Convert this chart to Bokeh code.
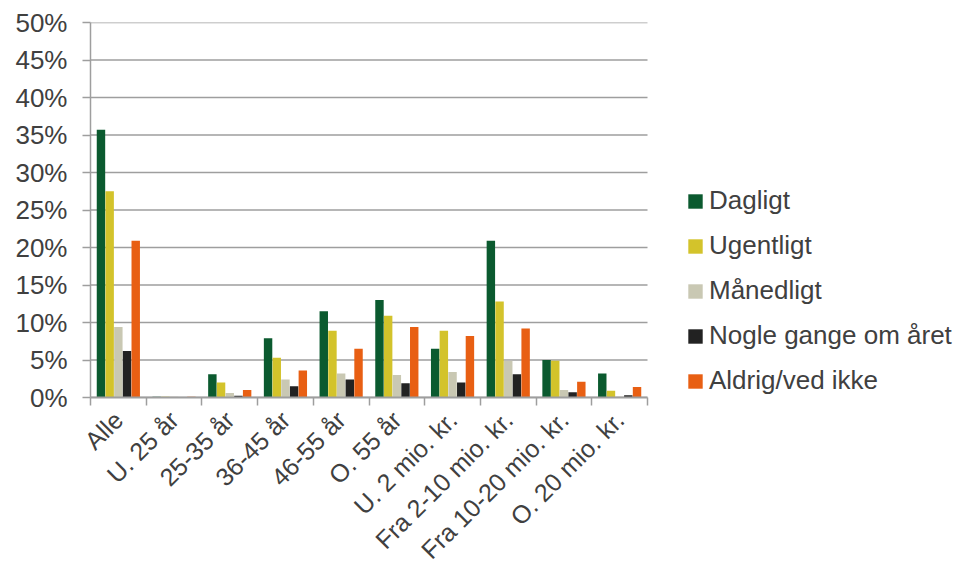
import math
import numpy as np
from bokeh.plotting import figure
from bokeh.models import (Range1d, FixedTicker, NumeralTickFormatter, Legend, LegendItem,
                          ColumnDataSource)
from bokeh.embed import file_html
from bokeh.resources import INLINE

categories = ["Alle", "U. 25 år", "25-35 år", "36-45 år", "46-55 år", "O. 55 år",
              "U. 2 mio. kr.", "Fra 2-10 mio. kr.", "Fra 10-20 mio. kr.", "O. 20 mio. kr."]
series_names = ["Dagligt", "Ugentligt", "Månedligt", "Nogle gange om året", "Aldrig/ved ikke"]
dagligt = [35.7, 0.1, 3.1, 7.9, 11.5, 13.0, 6.5, 20.9, 5.0, 3.2]
ugentligt = [27.5, 0.1, 2.0, 5.3, 8.9, 10.9, 8.9, 12.8, 4.9, 0.9]
maanedligt = [9.4, 0.1, 0.6, 2.4, 3.2, 3.0, 3.4, 4.9, 1.0, 0.1]
nogle = [6.2, 0.0, 0.25, 1.5, 2.4, 1.9, 2.0, 3.1, 0.7, 0.3]
aldrig = [20.9, 0.1, 1.0, 3.6, 6.5, 9.4, 8.2, 9.2, 2.1, 1.4]
series_values = [dagligt, ugentligt, maanedligt, nogle, aldrig]
colors = ["#0b5a2f", "#d3c32b", "#c9c8b3", "#222222", "#e85f13"]
y_ticks = [0, 0.05, 0.10, 0.15, 0.20, 0.25, 0.30, 0.35, 0.40, 0.45, 0.50]

FONT = "Liberation Sans"
TXT = "#404040"
GRID = "#9e9e9e"

W, H = 958, 576
LEFT, TOP, BOTTOM = 90, 22, 178
PLOT_W = 557  # pixel width of the category area
n = len(categories)
frame_w = W - LEFT
x_end = n * frame_w / PLOT_W

p = figure(width=W, height=H, output_backend="svg", toolbar_location=None,
           x_range=Range1d(0, x_end), y_range=Range1d(0, 0.5),
           min_border_left=LEFT, min_border_right=0, min_border_top=TOP,
           min_border_bottom=BOTTOM)
p.outline_line_color = None
p.background_fill_color = "white"
p.border_fill_color = "white"

# gridlines limited to the category area
p.xgrid.grid_line_color = None
p.ygrid.grid_line_color = None
p.segment(x0=[0] * len(y_ticks), x1=[n] * len(y_ticks), y0=y_ticks, y1=y_ticks,
          line_color=GRID, line_width=1.5)

bar_w = 0.156
centers = np.arange(n) + 0.5
items = []
for k, (name, vals, col) in enumerate(zip(series_names, series_values, colors)):
    off = (k - 2) * bar_w
    src = ColumnDataSource(dict(x=centers + off, top=np.array(vals) / 100.0))
    r = p.vbar(x="x", top="top", width=bar_w * 0.97, bottom=0, source=src,
               fill_color=col, line_color=None)
    items.append(LegendItem(label=name, renderers=[r]))

# y axis
ya = p.yaxis[0]
ya.ticker = FixedTicker(ticks=y_ticks)
ya.formatter = NumeralTickFormatter(format="0%")
ya.axis_line_color = GRID
ya.axis_line_width = 1.5
ya.major_tick_line_color = GRID
ya.major_tick_line_width = 1.5
ya.major_tick_out = 8
ya.major_tick_in = 0
ya.minor_tick_line_color = None
ya.major_label_text_font = FONT
ya.major_label_text_font_size = "26px"
ya.major_label_text_color = TXT
ya.major_label_standoff = 15

# x axis
xa = p.xaxis[0]
xa.bounds = (0, n)
xa.ticker = FixedTicker(ticks=list(centers), minor_ticks=list(range(n + 1)))
xa.major_label_overrides = {float(c): lab for c, lab in zip(centers, categories)}
xa.major_label_orientation = math.pi / 4
xa.axis_line_color = GRID
xa.axis_line_width = 2
xa.major_tick_line_color = None
xa.minor_tick_line_color = GRID
xa.minor_tick_line_width = 1.5
xa.minor_tick_out = 8
xa.minor_tick_in = 0
xa.major_label_text_font = FONT
xa.major_label_text_font_size = "25px"
xa.major_label_text_color = TXT
xa.major_label_standoff = 10

legend = Legend(items=items, location=(596, 1), orientation="vertical",
                glyph_width=18, glyph_height=18, label_standoff=5, spacing=14,
                padding=0, margin=0, border_line_color=None, background_fill_alpha=0,
                label_text_font=FONT, label_text_font_size="26px", label_text_color=TXT)
p.add_layout(legend, "center")

open("out.html", "w").write(file_html(p, INLINE))
